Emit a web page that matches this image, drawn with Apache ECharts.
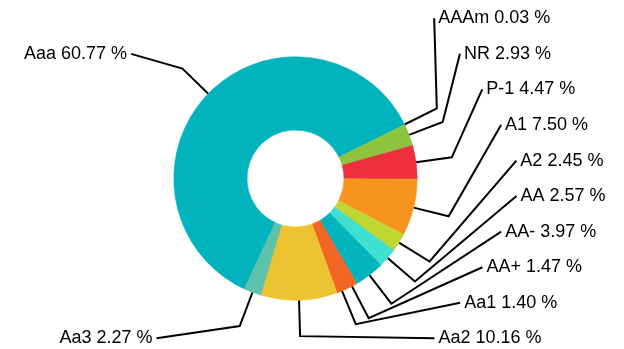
<!DOCTYPE html>
<html>
<head>
<meta charset="utf-8">
<script src="https://cdn.jsdelivr.net/npm/echarts@6/dist/echarts.min.js"></script>
<style>
  html, body { margin: 0; padding: 0; background: #fff; }
  #chart { width: 624px; height: 349px; }
</style>
</head>
<body>
<div id="chart"></div>
<script>
// Rating breakdown (share of total, %)
const categories = ['Aaa', 'AAAm', 'NR', 'P-1', 'A1', 'A2', 'AA', 'AA-', 'AA+', 'Aa1', 'Aa2', 'Aa3'];
const shares = [60.77, 0.03, 2.93, 4.47, 7.50, 2.45, 2.57, 3.97, 1.47, 1.40, 10.16, 2.27];
const sliceColors = ['#00b3bc', '#00b3bc', '#8cc43f', '#ee2f3e', '#f7941d', '#bfd730',
                     '#40e0d0', '#00b3bc', '#f26522', '#f26522', '#ecc432', '#5dc1ab'];

// Geometry of the ring
const CX = 295.5, CY = 178.5, R_IN = 48.5, R_OUT = 121.7, START_ANGLE = 245.2;
const ELBOW = 36;                 // radial part of each leader line
const SLOT_TOP = 18.3, SLOT_STEP = 35.56, SLOT_COUNT = 10;
const GAP = 4;                    // space between leader end and text

// Mid angle of every slice, counter-clockwise from east (radians)
const total = shares.reduce((a, b) => a + b, 0);
let acc = 0;
const mids = shares.map(v => {
  const deg = START_ANGLE - (acc + v / 2) / total * 360;
  acc += v;
  return deg * Math.PI / 180;
});
const onRight = mids.map(a => Math.cos(a) >= 0);
const elbowY = mids.map(a => CY - (R_OUT + ELBOW) * Math.sin(a));

// Labels sit in evenly spaced rows; right column fills rows top to bottom,
// left column takes the row nearest to its elbow.
const slotOf = new Array(shares.length);
shares.map((_, i) => i).filter(i => onRight[i])
  .sort((a, b) => elbowY[a] - elbowY[b])
  .forEach((i, k) => { slotOf[i] = k; });
shares.forEach((_, i) => {
  if (!onRight[i]) {
    const s = Math.round((elbowY[i] - SLOT_TOP) / SLOT_STEP);
    slotOf[i] = Math.max(0, Math.min(SLOT_COUNT - 1, s));
  }
});

// Horizontal distance of a label row from the centre: rows bend inwards
// towards the top and bottom.
function rowOffset(dy) {
  const d = Math.abs(dy);
  return 231.3 - 0.3335 * d - 0.001371 * d * d;
}

const chart = echarts.init(document.getElementById('chart'), null, { renderer: 'canvas' });

chart.setOption({
  animation: false,
  backgroundColor: '#ffffff',
  series: [{
    type: 'pie',
    center: [CX, CY],
    radius: [R_IN, R_OUT],
    startAngle: START_ANGLE,
    clockwise: true,
    avoidLabelOverlap: false,
    emphasis: { disabled: true },
    data: categories.map((name, i) => ({
      name: name,
      value: shares[i],
      // a hairline in the slice's own colour closes the seams between neighbours
      itemStyle: { color: sliceColors[i], borderColor: sliceColors[i], borderWidth: 0.6 }
    })),
    label: {
      show: true,
      position: 'outside',
      overflow: 'none',
      color: '#000',
      fontFamily: '"Liberation Sans", Arial, sans-serif',
      fontSize: 18,
      fontWeight: 'normal',
      formatter: p => p.name + ' ' + Number(p.value).toFixed(2) + ' %'
    },
    labelLine: {
      show: true,
      length: ELBOW,
      length2: 5,
      smooth: false,
      lineStyle: { color: '#000', width: 2 }
    },
    labelLayout: function (params) {
      const i = params.dataIndex;
      const a = mids[i];
      const y = SLOT_TOP + slotOf[i] * SLOT_STEP;
      const off = rowOffset(y - CY);
      const right = onRight[i];
      const x = right ? CX + off : CX - off;
      const p0 = [CX + R_OUT * Math.cos(a), CY - R_OUT * Math.sin(a)];
      const p1 = [CX + (R_OUT + ELBOW) * Math.cos(a), CY - (R_OUT + ELBOW) * Math.sin(a)];
      const p2 = [right ? x - GAP : x + GAP, y];
      return {
        x: x,
        y: y,
        align: right ? 'left' : 'right',
        verticalAlign: 'middle',
        labelLinePoints: [p0, p1, p2]
      };
    }
  }]
});
</script>
</body>
</html>
